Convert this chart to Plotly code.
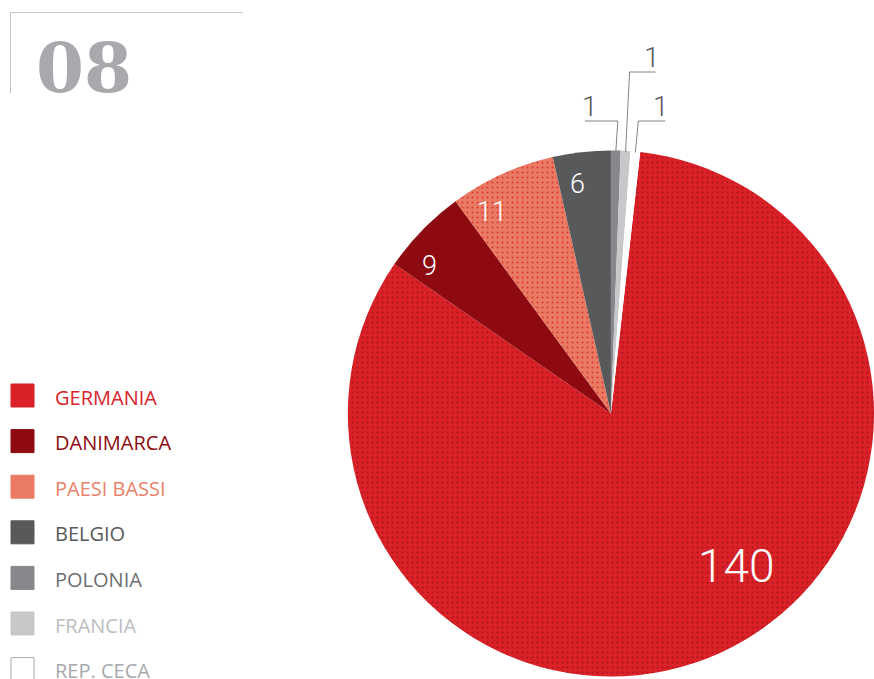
import math
import plotly.graph_objects as go

# export volumes by country (chart 08)
countries = ['GERMANIA', 'DANIMARCA', 'PAESI BASSI', 'BELGIO', 'POLONIA', 'FRANCIA', 'REP. CECA']
values = [140, 9, 11, 6, 1, 1, 1]
slice_colors = ['#da2128', '#8d0b10', '#ea7a63', '#58595b', '#87888b', '#c7c8ca', '#ffffff']
legend_colors = ['#d9232a', '#8d0b10', '#e8826b', '#58595b', '#6d6e71', '#bcbec0', '#a7a9ac']
dotted = [True, False, True, False, False, False, False]
dot_colors = ['#a8141a', '', '#d8362e', '', '', '', '']

W, H = 874, 679
dom_x = [0.398, 1.0]
dom_y = [0.0, 0.782]

total = sum(values)
# start Germania after the three tiny slices so they sit at 12 o'clock
start = 360 * sum(values[4:]) / total

fig = go.Figure()
fig.add_trace(go.Pie(
    labels=countries,
    values=values,
    sort=False,
    direction='clockwise',
    rotation=start,
    textinfo='none',
    marker=dict(
        colors=slice_colors,
        line=dict(width=0),
        pattern=dict(
            shape=['.' if d else '' for d in dotted],
            fgcolor=[c if c else s for c, s in zip(dot_colors, slice_colors)],
            bgcolor=slice_colors,
            size=5, solidity=0.12,
        ),
    ),
    domain=dict(x=dom_x, y=dom_y),
    showlegend=False,
    hoverinfo='label+value',
))

# pie geometry in pixels (top-left origin) for the value labels
r = min((dom_x[1] - dom_x[0]) * W, (dom_y[1] - dom_y[0]) * H) / 2
cx = (dom_x[0] + dom_x[1]) / 2 * W
cy = (1 - (dom_y[0] + dom_y[1]) / 2) * H

def px(x):
    return x / W

def py(y):
    return 1 - y / H

def rim(angle, frac):
    a = math.radians(angle % 360)
    return cx + frac * r * math.sin(a), cy - frac * r * math.cos(a)

shapes = []
annotations = []

cum = 0
mids = []
for v in values:
    mids.append(start + 360 * (cum + v / 2) / total)
    cum += v

# labels inside the larger slices: (radius fraction, angle shift, font size)
inside = {0: (0.75, -15, 46), 1: (0.89, -5, 27), 2: (0.89, -6, 27), 3: (0.88, -2, 27)}
for i, (frac, shift, size) in inside.items():
    lx, ly = rim(mids[i] + shift, frac)
    annotations.append(dict(x=px(lx), y=py(ly), xref='paper', yref='paper',
                            text=str(values[i]), showarrow=False, xanchor='center', yanchor='middle',
                            font=dict(family='Roboto', size=size, color='white', weight=300)))

# callouts for the three 1-unit slices: (elbow dx, elbow y, underline length, text offset)
callouts = {4: (2, 121, -33, 5), 5: (4, 72, 26, -4), 6: (3, 121, 27, -4)}
for i, (edx, ey, ulen, tdx) in callouts.items():
    rx, ry = rim(mids[i], 1.0)
    ry += 1
    ex = rx + edx
    ux = ex + ulen
    shapes.append(dict(type='path', xref='paper', yref='paper',
                       path=f'M {px(rx)},{py(ry)} L {px(ex)},{py(ey)} L {px(ux)},{py(ey)}',
                       line=dict(color='#808285', width=1)))
    annotations.append(dict(x=px(ux + tdx), y=py(ey - 15), xref='paper', yref='paper',
                            text=str(values[i]), showarrow=False, xanchor='center', yanchor='middle',
                            font=dict(family='Roboto', size=28, color='#58595b', weight=300)))

# legend drawn at the left
for i, name in enumerate(countries):
    yc = 395.5 + i * 45.6
    shapes.append(dict(type='rect', xref='paper', yref='paper',
                       x0=px(11), x1=px(34), y0=py(yc - 11.5), y1=py(yc + 11.5),
                       fillcolor=slice_colors[i],
                       line=dict(color='#a7a9ac' if slice_colors[i] == '#ffffff' else slice_colors[i], width=1)))
    annotations.append(dict(x=px(53), y=py(yc + 1.5), xref='paper', yref='paper', text=name,
                            showarrow=False, xanchor='left', yanchor='middle',
                            font=dict(family='Open Sans', size=20, color=legend_colors[i], weight=500)))

# chart number with its bracket frame
shapes.append(dict(type='path', xref='paper', yref='paper',
                   path=f'M {px(243)},{py(12.5)} L {px(10.5)},{py(12.5)} L {px(10.5)},{py(93)}',
                   line=dict(color='#c4c5c7', width=1)))
annotations.append(dict(x=px(34), y=py(68), xref='paper', yref='paper', text='<b>08</b>',
                        showarrow=False, xanchor='left', yanchor='middle',
                        font=dict(family='DejaVu Serif', size=69, color='#a7a9ac')))

fig.update_layout(
    width=W, height=H,
    margin=dict(l=0, r=0, t=0, b=0),
    paper_bgcolor='white',
    plot_bgcolor='white',
    shapes=shapes,
    annotations=annotations,
)

fig.write_html('out.html', config={'displayModeBar': False},
               post_script="document.body.style.margin='0';")
